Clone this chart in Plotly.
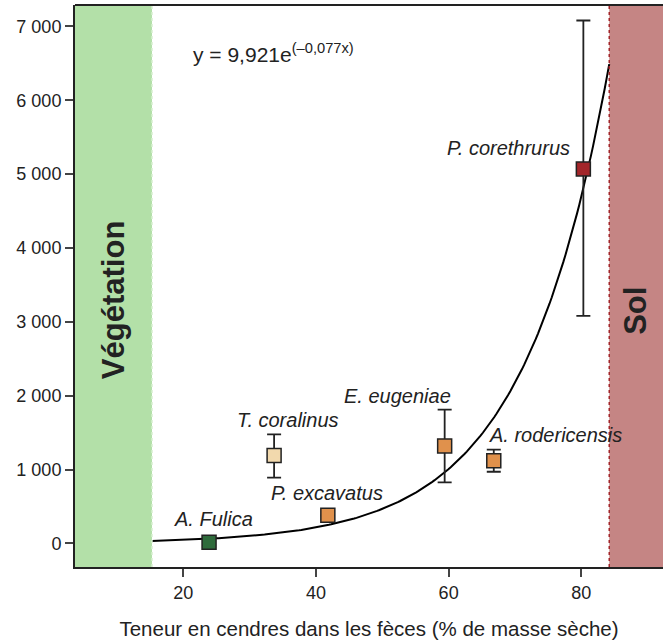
import numpy as np
import plotly.graph_objects as go

species = ["A. Fulica", "T. coralinus", "P. excavatus", "E. eugeniae", "A. rodericensis", "P. corethrurus"]
ash = [23.9, 33.7, 41.8, 59.4, 66.8, 80.3]
value = [15, 1190, 380, 1320, 1120, 5070]
err_plus = [40, 285, 0, 490, 150, 2010]
err_minus = [40, 300, 0, 495, 150, 1990]
colors = ["#2f6b3c", "#f2d9ad", "#e0914c", "#e0914c", "#e0914c", "#a3262a"]
label_dx = [4, 14, -1, -47, 62, -75]
label_dy = [-23, -35, -22, -50, -26, -21]

y_ticks = [0, 1000, 2000, 3000, 4000, 5000, 6000, 7000]
y_ticktext = ["0", "1 000", "2 000", "3 000", "4 000", "5 000", "6 000", "7 000"]
x_ticks = [20, 40, 60, 80]

veg_end = 15.3
sol_start = 84.2
a_coef, b_coef = 9.921, 0.077

FONT = "Liberation Sans, Arial, sans-serif"

fig = go.Figure()

fig.add_shape(type="rect", x0=3.7, x1=veg_end, y0=-320, y1=7290, fillcolor="#b3e0a8",
              line=dict(width=0), layer="below")
fig.add_shape(type="rect", x0=sol_start, x1=92.3, y0=-320, y1=7290, fillcolor="#c58584",
              line=dict(width=0), layer="below")
fig.add_shape(type="line", x0=veg_end, x1=veg_end, y0=-320, y1=7290,
              line=dict(color="#d6efcf", width=1.5, dash="dot"))
fig.add_shape(type="line", x0=sol_start, x1=sol_start, y0=-320, y1=7290,
              line=dict(color="#a3262a", width=1.5, dash="dot"))

xc = np.linspace(veg_end, sol_start, 200)
fig.add_trace(go.Scatter(x=xc, y=a_coef * np.exp(b_coef * xc), mode="lines",
                         line=dict(color="black", width=2), hoverinfo="skip", showlegend=False))

fig.add_trace(go.Scatter(
    x=ash, y=value, mode="markers",
    marker=dict(symbol="square", size=14, color=colors, line=dict(color="#222", width=1.5)),
    error_y=dict(type="data", symmetric=False, array=err_plus, arrayminus=err_minus,
                 color="#222", thickness=1.8, width=7),
    showlegend=False))

for s, x, y, dx, dy in zip(species, ash, value, label_dx, label_dy):
    fig.add_annotation(x=x, y=y, text=s, showarrow=False, xshift=dx, yshift=-dy,
                       font=dict(family=FONT, size=20, color="#222", style="italic"))

fig.add_annotation(x=(veg_end + 3.7) / 2, y=3300, text="<b>Végétation</b>", textangle=-90,
                   showarrow=False, font=dict(family=FONT, size=31, color="#222"))
fig.add_annotation(x=(sol_start + 92.3) / 2, y=3150, text="<b>Sol</b>", textangle=-90,
                   showarrow=False, font=dict(family=FONT, size=31, color="#222"))
fig.add_annotation(x=33.6, y=6640, text="y = 9,921e<sup>(–0,077x)</sup>", showarrow=False,
                   font=dict(family=FONT, size=21, color="#222"))

fig.update_layout(
    width=663, height=643, margin=dict(l=75, r=0, t=5, b=76),
    plot_bgcolor="white", paper_bgcolor="white",
    font=dict(family=FONT, size=18, color="#222"),
    xaxis=dict(range=[3.7, 92.3], tickvals=x_ticks, ticks="outside", ticklen=8, tickwidth=2,
               showgrid=False, zeroline=False, showline=True, linecolor="#222", linewidth=2,
               title=dict(text="Teneur en cendres dans les fèces (% de masse sèche)", standoff=20,
                          font=dict(size=20.5)),
               tickfont=dict(size=18)),
    yaxis=dict(range=[-320, 7290], tickvals=y_ticks, ticktext=y_ticktext, ticks="outside",
               ticklen=8, tickwidth=2, showgrid=False, zeroline=False, showline=True,
               linecolor="#222", linewidth=2, tickfont=dict(size=18)),
)
fig.add_shape(type="line", xref="paper", yref="paper", x0=0, x1=1, y0=1, y1=1,
              line=dict(color="#222", width=2))

fig.write_html("out.html")
